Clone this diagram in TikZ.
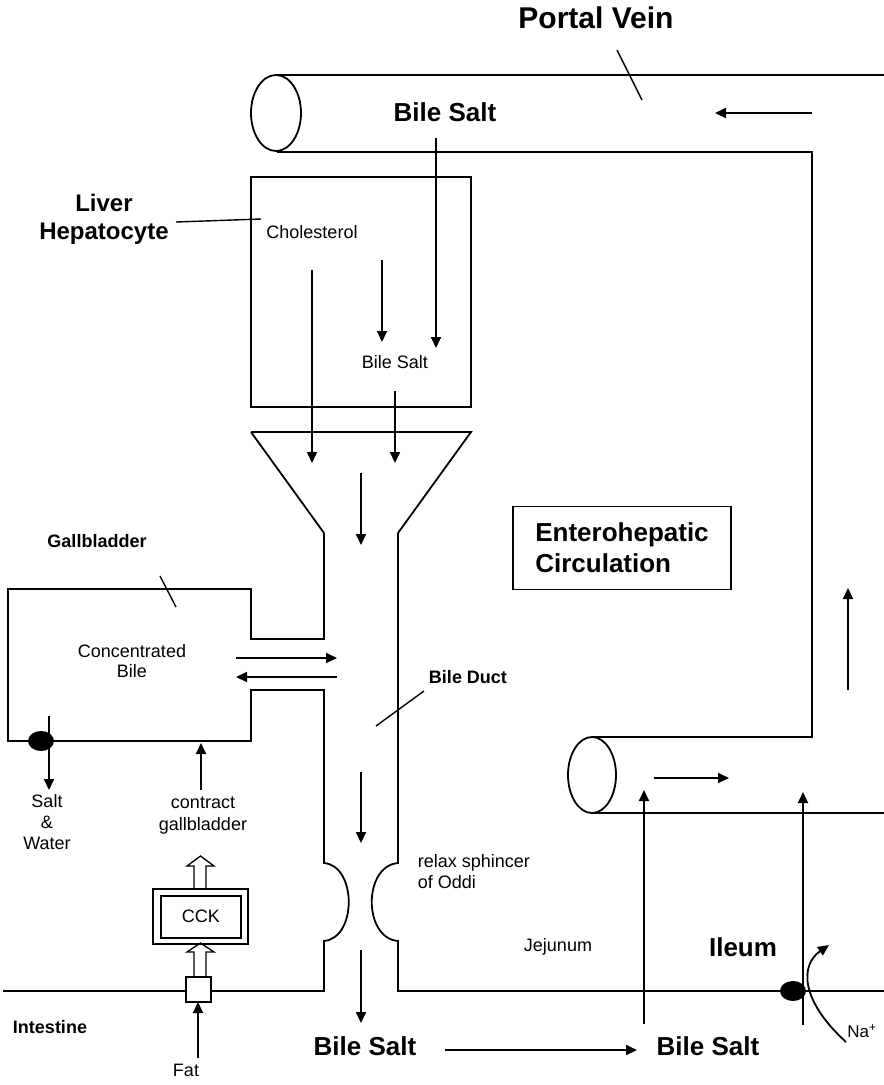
\documentclass[tikz,border=0pt]{standalone}
\usepackage{fontspec}
\setmainfont{Liberation Sans}
\usetikzlibrary{arrows.meta}

\begin{document}
\begin{tikzpicture}[x=1pt, y=-1pt, line width=1.8pt,
  >={Triangle[length=11pt,width=10pt]},
  every node/.style={inner sep=0pt, align=center, font=\fontsize{18}{21}\selectfont},
  biglabel/.style={font=\fontsize{26}{31}\selectfont\bfseries},
  smalllabel/.style={font=\fontsize{18}{21}\selectfont\bfseries},
  dot/.style={fill=black}]
\useasboundingbox (0,0) rectangle (884,1085);
\def\duL{324}
\def\duR{398}

% Portal vein (upper tube)
\draw (276,113) ellipse [x radius=25pt, y radius=38pt];
\draw (277,75) -- (884,75);
\draw (277,152) -- (812,152) -- (812,737) -- (592,737);
% Lower tube
\draw (592,775) ellipse [x radius=24pt, y radius=38pt];
\draw (592,813) -- (884,813);

\node[font=\fontsize{30}{34}\selectfont\bfseries] (portal) at (596,18) {Portal Vein};
\draw[line width=1.4pt] (617,50) -- (642,100);
\node[biglabel] (bsPortal) at (445,112) {Bile Salt};
\draw[->] (812,113) -- (715,113);

% Liver hepatocyte
\draw (251,177) rectangle (471,407);
\node[font=\fontsize{24}{28}\selectfont\bfseries] (liver) at (104,219) {Liver\\Hepatocyte};
\draw[line width=1.4pt] (176,222) -- (261,219);
\node (chol) at (312,232) {Cholesterol};
\node (bsLiver) at (395,362) {Bile Salt};
\draw[->] (436,138) -- (436,348);
\draw[->] (382,260) -- (382,342);
\draw[->] (312,270) -- (312,463);
\draw[->] (395,391) -- (395,463);

% Funnel and bile duct
\draw (251,432) -- (471,432) -- (\duR,533);
\draw (251,432) -- (\duL,533);
\draw (\duL,533) -- (\duL,639) -- (251,639) -- (251,589) -- (8,589) -- (8,741)
  -- (251,741) -- (251,690) -- (\duL,690) -- (\duL,863)
  .. controls (357,866) and (357,938) .. (\duL,941) -- (\duL,991) -- (3,991);
\draw (\duR,533) -- (\duR,863)
  .. controls (363,866) and (363,938) .. (\duR,941) -- (\duR,991) -- (884,991);
\draw[->] (361,473) -- (361,545);
\draw[->] (361,772) -- (361,843);
\draw[->] (361,950) -- (361,1023);
\node[smalllabel] (duct) at (468,677) {Bile Duct};
\draw[line width=1.4pt] (424,691) -- (376,726);
\node[anchor=west, align=left] (oddi) at (417,872) {relax sphincer\\of Oddi};

% Gallbladder
\node[smalllabel] (gall) at (97,541) {Gallbladder};
\draw[line width=1.4pt] (160,576) -- (176,607);
\node[font=\fontsize{18}{20}\selectfont] (conc) at (132,661) {Concentrated\\Bile};
\draw[->] (236,658) -- (337,658);
\draw[->] (337,677) -- (236,677);
\fill[dot] (41,741) ellipse [x radius=13pt, y radius=10pt];
\draw[->] (49,716) -- (49,790);
\node[font=\fontsize{18}{21}\selectfont] (salt) at (47,822) {Salt\\\&\\Water};
\draw[->] (201,790) -- (201,743);
\node[font=\fontsize{18}{22}\selectfont] (contract) at (203,816) {contract\\gallbladder};

% CCK
\draw[line width=1.3pt] (194,889) -- (194,866) -- (187,866) -- (200.5,856)
  -- (214,866) -- (206,866) -- (206,889);
\draw (153,889) rectangle (248,944);
\draw (161,896) rectangle (241,938);
\node (cck) at (201,916) {CCK};
\draw[line width=1.3pt] (194,976) -- (194,952) -- (187,952) -- (200.5,943)
  -- (214,952) -- (206,952) -- (206,976);
\draw[fill=white] (186,977) rectangle (211,1002);
\draw[->] (198,1058) -- (198,1002);
\node (fat) at (186,1070) {Fat};
\node[smalllabel] (intestine) at (50,1027) {Intestine};

% Intestine: jejunum and ileum
\node (jejunum) at (558,947) {Jejunum};
\node[biglabel] (ileum) at (743,947) {Ileum};
\node[biglabel] (bsBottom) at (365,1046) {Bile Salt};
\node[biglabel] (bsRight) at (708,1046) {Bile Salt};
\draw[->] (445,1050) -- (637,1050);
\draw[->] (644,1024) -- (644,790);
\draw[->] (803,1025) -- (803,792);
\draw[->] (654,778) -- (729,778);
\fill[dot] (793,991) ellipse [x radius=13pt, y radius=10pt];
\draw[->] (846,1042) .. controls (800,1000) and (800,965) .. (829,945);
\node[font=\fontsize{17}{20}\selectfont] (na) at (862,1031) {Na\textsuperscript{+}};

% Enterohepatic circulation
\node[draw, biglabel, align=left, minimum width=218pt, minimum height=83pt]
  (entero) at (622,548) {Enterohepatic\\Circulation};
\draw[->] (848,690) -- (848,588);
\end{tikzpicture}
\end{document}
